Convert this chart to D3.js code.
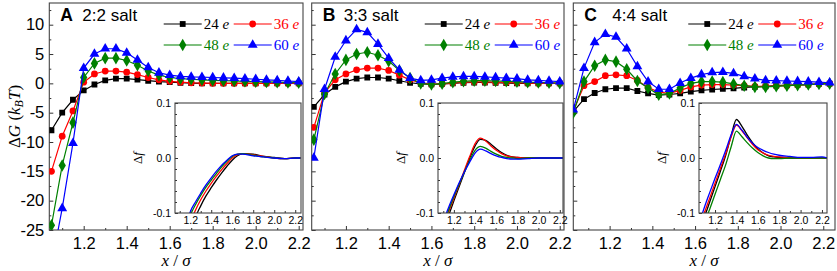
<!DOCTYPE html>
<html lang="en">
<head>
<meta charset="utf-8">
<script src="https://d3js.org/d3.v7.min.js"></script>
<style>
  body { margin: 0; background: #fff; }
  svg text { font-family: "Liberation Sans", Arial, sans-serif; fill: #000; }
  .serif { font-family: "Liberation Serif", "Times New Roman", serif; }
  .tick line { stroke: #333; }
</style>
</head>
<body>
<svg id="chart" width="837" height="271"></svg>
<script>
// ---- main curves: dG (kBT) vs x/sigma ----
const xAB = [1.05, 1.10, 1.15, 1.20, 1.25, 1.30, 1.35, 1.40, 1.45, 1.50, 1.55, 1.60,
             1.65, 1.70, 1.75, 1.80, 1.85, 1.90, 1.95, 2.00, 2.05, 2.10, 2.15, 2.20];
const xC = [1.03, 1.08, 1.13, 1.18, 1.23, 1.28, 1.33, 1.38, 1.43, 1.48, 1.53, 1.58, 1.63,
            1.68, 1.73, 1.78, 1.83, 1.88, 1.93, 1.98, 2.03, 2.08, 2.13, 2.18, 2.23];

const A24 = [-8.0, -5.0, -2.8, -1.2, -0.2, 0.5, 0.8, 0.8, 0.65, 0.45, 0.3, 0.2, 0.1, 0.05, 0, 0, 0, 0, 0, 0, 0, 0, 0, 0];
const A36 = [-15.0, -9.0, -4.7, 0.2, 1.6, 2.1, 2.1, 1.9, 1.5, 1.0, 0.6, 0.35, 0.2, 0.1, 0.05, 0, 0, 0, 0, 0, 0, 0, 0, 0];
const A48 = [-24.2, -14.0, -6.7, 1.0, 3.4, 4.3, 4.3, 3.9, 3.1, 2.1, 1.4, 1.0, 0.8, 0.7, 0.6, 0.5, 0.45, 0.4, 0.35, 0.3, 0.25, 0.2, 0.15, 0.1];
const A60 = [-31, -21.3, -10.2, 2.6, 5.0, 5.9, 5.9, 5.2, 4.0, 2.7, 1.8, 1.4, 1.2, 1.1, 1.05, 1.0, 0.95, 0.9, 0.8, 0.7, 0.6, 0.5, 0.4, 0.3];

const B24 = [-4.0, -1.9, -0.6, 0.3, 0.8, 1.0, 1.0, 0.8, 0.45, 0.1, -0.1, -0.15, -0.1, 0.0, 0.1, 0.15, 0.15, 0.1, 0.05, 0, 0, 0, 0, 0];
const B36 = [-7.5, -1.6, 0.6, 1.6, 2.3, 2.6, 2.6, 2.2, 1.4, 0.6, 0.1, -0.15, -0.1, 0.05, 0.2, 0.25, 0.25, 0.2, 0.15, 0.1, 0.05, 0, 0, 0];
const B48 = [-9.6, -1.8, 1.6, 4.0, 5.0, 5.3, 4.8, 3.8, 2.2, 0.9, 0.0, -0.2, -0.05, 0.2, 0.35, 0.45, 0.45, 0.4, 0.35, 0.3, 0.2, 0.15, 0.1, 0.05];
const B60 = [-12.7, -1.0, 4.5, 7.3, 9.2, 8.7, 6.7, 4.3, 2.3, 0.9, 0.5, 0.6, 0.9, 1.1, 1.2, 1.2, 1.1, 1.0, 0.9, 0.8, 0.6, 0.5, 0.4, 0.3];

const C24 = [-4.8, -2.7, -1.65, -1.0, -0.8, -0.8, -1.3, -1.7, -2.0, -1.9, -1.7, -1.4, -1.2, -1.05, -0.95, -0.85, -0.7, -0.6, -0.5, -0.4, -0.3, -0.25, -0.2, -0.1, -0.05];
const C36 = [-4.7, -0.4, 0.3, 1.3, 1.45, 1.3, 0.5, -0.7, -1.5, -1.7, -1.2, -0.6, -0.3, -0.2, -0.2, -0.3, -0.4, -0.5, -0.5, -0.45, -0.4, -0.3, -0.2, -0.1, -0.05];
const C48 = [-5.0, 0.3, 3.0, 4.0, 3.7, 2.4, 0.4, -0.8, -1.95, -1.7, -0.8, 0.0, 0.3, 0.3, 0.2, -0.1, -0.4, -0.6, -0.6, -0.5, -0.4, -0.3, -0.2, -0.1, -0.05];
const C60 = [-4.5, 2.6, 7.0, 8.4, 7.9, 5.9, 2.9, 0.3, -1.0, -1.0, 0.05, 0.9, 1.5, 1.85, 1.9, 1.7, 1.2, 0.8, 0.5, 0.45, 0.4, 0.35, 0.3, 0.2, 0.1];

// ---- insets: delta f ----
const xiA = [1.15, 1.2, 1.25, 1.3, 1.35, 1.4, 1.45, 1.5, 1.55, 1.6, 1.65, 1.7, 1.8, 1.9, 2.0, 2.1, 2.2, 2.25];
const iA24 = [-0.18, -0.14, -0.108, -0.087, -0.069, -0.054, -0.04, -0.027, -0.015, -0.004, 0.004, 0.008, 0.007, 0.003, 0.001, -0.001, 0.0, 0.0];
const iA36 = [-0.16, -0.12, -0.095, -0.076, -0.06, -0.046, -0.033, -0.021, -0.01, 0.0, 0.006, 0.008, 0.006, 0.003, 0.0, -0.001, 0.0, 0.0];
const iA48 = [-0.14, -0.105, -0.085, -0.068, -0.053, -0.04, -0.028, -0.016, -0.006, 0.003, 0.007, 0.008, 0.005, 0.002, 0.0, -0.001, 0.0, 0.0];
const iA60 = [-0.13, -0.098, -0.08, -0.064, -0.049, -0.036, -0.024, -0.013, -0.004, 0.004, 0.007, 0.007, 0.004, 0.002, 0.0, -0.001, 0.0, 0.0];

const xiB = [1.1, 1.15, 1.2, 1.25, 1.3, 1.35, 1.4, 1.45, 1.5, 1.55, 1.6, 1.65, 1.7, 1.75, 1.8, 1.9, 2.0, 2.1, 2.2, 2.25];
const iB24 = [-0.135, -0.105, -0.078, -0.052, -0.026, 0.0, 0.022, 0.034, 0.032, 0.025, 0.017, 0.01, 0.005, 0.002, 0.001, 0.0, 0.0, 0.0, 0.0, 0.0];
const iB36 = [-0.125, -0.098, -0.073, -0.048, -0.022, 0.003, 0.026, 0.036, 0.031, 0.022, 0.014, 0.008, 0.004, 0.002, 0.001, 0.0, 0.0, 0.0, 0.0, 0.0];
const iB48 = [-0.12, -0.095, -0.07, -0.047, -0.025, -0.004, 0.014, 0.021, 0.018, 0.012, 0.007, 0.003, 0.001, 0.0, -0.001, 0.0, 0.0, 0.0, 0.0, 0.0];
const iB60 = [-0.115, -0.09, -0.067, -0.045, -0.025, -0.007, 0.009, 0.016, 0.013, 0.008, 0.004, 0.001, -0.001, -0.002, -0.002, -0.001, 0.0, 0.0, 0.0, 0.0];

const xiC = [1.05, 1.1, 1.15, 1.2, 1.25, 1.3, 1.35, 1.4, 1.45, 1.5, 1.55, 1.6, 1.65, 1.7, 1.75, 1.8, 1.9, 2.0, 2.1, 2.2, 2.25];
const iC24 = [-0.135, -0.108, -0.08, -0.052, -0.024, 0.005, 0.04, 0.07, 0.058, 0.042, 0.028, 0.017, 0.009, 0.004, 0.002, 0.001, 0.0, 0.0, 0.0, 0.0, 0.0];
const iC36 = [-0.13, -0.1, -0.073, -0.046, -0.019, 0.008, 0.038, 0.06, 0.05, 0.037, 0.025, 0.015, 0.009, 0.005, 0.003, 0.002, 0.001, 0.0, 0.0, 0.0, 0.0];
const iC48 = [-0.145, -0.118, -0.093, -0.066, -0.039, -0.012, 0.02, 0.049, 0.039, 0.028, 0.018, 0.01, 0.004, 0.0, -0.001, -0.001, 0.0, 0.0, 0.0, 0.0, 0.0];
const iC60 = [-0.12, -0.09, -0.063, -0.037, -0.012, 0.014, 0.042, 0.061, 0.051, 0.038, 0.027, 0.019, 0.014, 0.01, 0.007, 0.005, 0.003, 0.001, 0.001, 0.002, 0.0];

const charges = ["24", "36", "48", "60"];
const saltNames = ["2:2 salt", "3:3 salt", "4:4 salt"];
const xTicks = [1.2, 1.4, 1.6, 1.8, 2.0, 2.2];
const xMinor = [1.1, 1.3, 1.5, 1.7, 1.9, 2.1];
const yTicks = [10, 5, 0, -5, -10, -15, -20, -25];
const yMinor = [12.5, 7.5, 2.5, -2.5, -7.5, -12.5, -17.5, -22.5];
const fTicks = [0.1, 0.0, -0.1];
const fMinor = [0.08, 0.06, 0.04, 0.02, -0.02, -0.04, -0.06, -0.08];

const colors = ["#000000", "#ff0000", "#008000", "#0000ff"];
const symbols = [d3.symbolSquare, d3.symbolCircle, d3.symbolDiamond, d3.symbolTriangle];
const symSize = [34, 36, 46, 42];

const svg = d3.select("#chart");
const plotTop = 3, plotBottom = 230;
const iTop = 103, iBottom = 213;

const y = d3.scaleLinear().domain([-25, 13.7]).range([plotBottom, plotTop]);
const yi = d3.scaleLinear().domain([-0.1, 0.1]).range([iBottom, iTop]);

const panels = [
  { id: "A", left: 49.3, right: 303, dom: [1.04, 2.22], xs: xAB, s: [A24, A36, A48, A60], saltDx: 33,
    inset: { left: 175, right: 301, dom: [1.055, 2.255], xs: xiA, s: [iA24, iA36, iA48, iA60] } },
  { id: "B", left: 311.7, right: 564, dom: [1.04, 2.22], xs: xAB, s: [B24, B36, B48, B60], saltDx: 32,
    inset: { left: 438, right: 563, dom: [1.05, 2.23], xs: xiB, s: [iB24, iB36, iB48, iB60] } },
  { id: "C", left: 573.3, right: 835, dom: [1.03, 2.255], xs: xC, s: [C24, C36, C48, C60], saltDx: 39,
    inset: { left: 699, right: 827, dom: [1.05, 2.247], xs: xiC, s: [iC24, iC36, iC48, iC60] } }
];

function cleanAxis(sel) { sel.select(".domain").remove(); }

panels.forEach((p, pi) => {
  const x = d3.scaleLinear().domain(p.dom).range([p.left, p.right]);
  const g = svg.append("g");

  svg.append("clipPath").attr("id", "clip" + p.id)
    .append("rect").attr("x", p.left).attr("y", plotTop)
    .attr("width", p.right - p.left).attr("height", plotBottom - plotTop);

  // x axis
  g.append("g").attr("transform", `translate(0,${plotBottom})`)
    .call(d3.axisBottom(x).tickValues(xMinor).tickSize(-2).tickFormat(""))
    .call(cleanAxis);
  g.append("g").attr("transform", `translate(0,${plotBottom})`)
    .call(d3.axisBottom(x).tickValues(xTicks).tickSize(-4).tickPadding(7).tickFormat(d3.format(".1f")))
    .call(cleanAxis)
    .selectAll("text").style("font-size", "16.5px");

  // y axis
  g.append("g").attr("transform", `translate(${p.left},0)`)
    .call(d3.axisLeft(y).tickValues(yMinor).tickSize(-2).tickFormat(""))
    .call(cleanAxis);
  g.append("g").attr("transform", `translate(${p.left},0)`)
    .call(d3.axisLeft(y).tickValues(yTicks).tickSize(-4).tickPadding(5)
      .tickFormat(pi === 0 ? (d => String(d)) : ""))
    .call(cleanAxis)
    .selectAll("text").style("font-size", "16.5px");

  // frame
  g.append("rect").attr("x", p.left).attr("y", plotTop)
    .attr("width", p.right - p.left).attr("height", plotBottom - plotTop)
    .attr("fill", "none").attr("stroke", "#444").attr("stroke-width", 1.1);

  // series
  const plot = g.append("g").attr("clip-path", `url(#clip${p.id})`);
  const line = d3.line().x((d, i) => x(p.xs[i])).y(d => y(d));
  p.s.forEach((vals, si) => {
    plot.append("path").datum(vals)
      .attr("d", line).attr("fill", "none")
      .attr("stroke", colors[si]).attr("stroke-width", 1.2);
    plot.selectAll(null).data(vals).enter().append("path")
      .attr("d", d3.symbol().type(symbols[si]).size(symSize[si]))
      .attr("transform", (d, i) => `translate(${x(p.xs[i])},${y(d)})`)
      .attr("fill", colors[si]);
  });

  // panel label
  g.append("text").attr("x", p.left + 11).attr("y", 21)
    .style("font-size", "17.5px").style("font-weight", "bold").text(p.id);
  g.append("text").attr("x", p.left + p.saltDx).attr("y", 21)
    .style("font-size", "17px").text(saltNames[pi]);

  // legend
  const R = x(2.2) + 5;
  const cols = [R - 140, R - 70];
  const rows = [24, 45];
  charges.forEach((c, si) => {
    const lx = cols[si % 2], ly = rows[Math.floor(si / 2)];
    const lg = g.append("g");
    lg.append("line").attr("x1", lx).attr("x2", lx + 38).attr("y1", ly).attr("y2", ly)
      .attr("stroke", colors[si]).attr("stroke-width", 1.2);
    lg.append("path").attr("d", d3.symbol().type(symbols[si]).size(symSize[si]))
      .attr("transform", `translate(${lx + 19},${ly})`).attr("fill", colors[si]);
    const t = lg.append("text").attr("class", "serif").attr("x", lx + 40).attr("y", ly + 5)
      .style("font-size", "15px").style("fill", colors[si]);
    t.append("tspan").text(c + " ");
    t.append("tspan").style("font-style", "italic").text("e");
  });

  // x label
  const xl = g.append("text").attr("class", "serif")
    .attr("x", (p.left + p.right) / 2).attr("y", 266)
    .attr("text-anchor", "middle").style("font-size", "17px");
  xl.append("tspan").style("font-style", "italic").text("x");
  xl.append("tspan").text(" / ");
  xl.append("tspan").style("font-style", "italic").text("σ");

  // inset
  const q = p.inset;
  const xi = d3.scaleLinear().domain(q.dom).range([q.left, q.right]);
  const ig = svg.append("g");
  svg.append("clipPath").attr("id", "iclip" + p.id)
    .append("rect").attr("x", q.left).attr("y", iTop)
    .attr("width", q.right - q.left).attr("height", iBottom - iTop);
  ig.append("rect").attr("x", q.left).attr("y", iTop)
    .attr("width", q.right - q.left).attr("height", iBottom - iTop)
    .attr("fill", "#fff");

  ig.append("g").attr("transform", `translate(0,${iBottom})`)
    .call(d3.axisBottom(xi).tickValues(xMinor).tickSize(-2).tickFormat(""))
    .call(cleanAxis);
  ig.append("g").attr("transform", `translate(0,${iBottom})`)
    .call(d3.axisBottom(xi).tickValues(xTicks).tickSize(-3).tickPadding(4).tickFormat(d3.format(".1f")))
    .call(cleanAxis)
    .selectAll("text").style("font-size", "10.5px");
  ig.append("g").attr("transform", `translate(${q.left},0)`)
    .call(d3.axisLeft(yi).tickValues(fMinor).tickSize(-2).tickFormat(""))
    .call(cleanAxis);
  ig.append("g").attr("transform", `translate(${q.left},0)`)
    .call(d3.axisLeft(yi).tickValues(fTicks).tickSize(-3).tickPadding(4).tickFormat(d => d.toFixed(1)))
    .call(cleanAxis)
    .selectAll("text").style("font-size", "10.5px");

  const iplot = ig.append("g").attr("clip-path", `url(#iclip${p.id})`);
  const iline = d3.line().curve(d3.curveMonotoneX).x((d, i) => xi(q.xs[i])).y(d => yi(d));
  q.s.forEach((vals, si) => {
    iplot.append("path").datum(vals).attr("d", iline)
      .attr("fill", "none").attr("stroke", colors[si]).attr("stroke-width", 1.3);
  });

  ig.append("rect").attr("x", q.left).attr("y", iTop)
    .attr("width", q.right - q.left).attr("height", iBottom - iTop)
    .attr("fill", "none").attr("stroke", "#444").attr("stroke-width", 1.1);

  const fl = ig.append("text").attr("class", "serif")
    .attr("transform", `translate(${q.left - 33},${yi(0)}) rotate(-90)`)
    .attr("text-anchor", "middle").style("font-size", "13px").style("font-style", "italic");
  fl.append("tspan").style("font-style", "normal").text("Δ");
  fl.append("tspan").text("f");
});

// y label
const yl = svg.append("text").attr("class", "serif")
  .attr("transform", `translate(20,${(plotTop + plotBottom) / 2}) rotate(-90)`)
  .attr("text-anchor", "middle").style("font-size", "17px");
yl.append("tspan").text("Δ");
yl.append("tspan").style("font-style", "italic").text("G");
yl.append("tspan").text(" (");
yl.append("tspan").style("font-style", "italic").text("k");
yl.append("tspan").style("font-style", "italic").style("font-size", "12px").attr("dy", 3).text("B");
yl.append("tspan").style("font-style", "italic").attr("dy", -3).text("T");
yl.append("tspan").text(")");
</script>
</body>
</html>
